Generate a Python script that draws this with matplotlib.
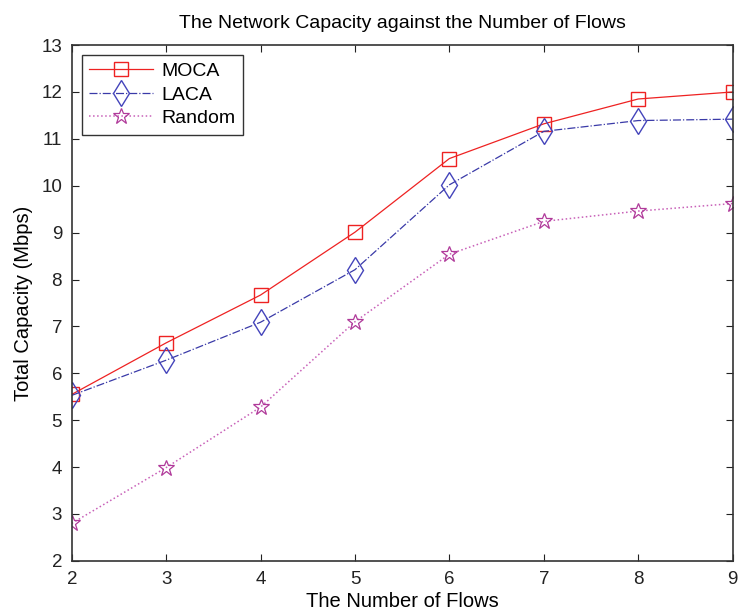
import matplotlib
matplotlib.use('Agg')
import matplotlib.pyplot as plt

plt.rcParams['font.family'] = ['Liberation Sans', 'DejaVu Sans']

# Data
flows = [2, 3, 4, 5, 6, 7, 8, 9]
moca = [5.55, 6.65, 7.67, 9.01, 10.58, 11.32, 11.85, 12.00]
laca = [5.53, 6.28, 7.09, 8.21, 10.02, 11.16, 11.39, 11.42]
random_ = [2.80, 3.99, 5.28, 7.10, 8.54, 9.24, 9.46, 9.62]

fig = plt.figure(figsize=(7.4, 6.09), dpi=100)
ax = fig.add_axes([0.097, 0.079, 0.893, 0.847])

ax.plot(flows, moca, color='#ee2222', linestyle='-', linewidth=0.9,
        marker='s', markersize=9.5, markerfacecolor='none', markeredgecolor='#ee2222',
        markeredgewidth=1.0, label='MOCA')
ax.plot(flows, laca, color='#3a3aa8', linestyle='-.', linewidth=0.9,
        marker='d', markersize=13, markerfacecolor='none', markeredgecolor='#4444bb',
        markeredgewidth=1.0, label='LACA')
ax.plot(flows, random_, color='#c860b8', linestyle=':', linewidth=1.1,
        marker='*', markersize=12, markerfacecolor='none', markeredgecolor='#b03a9a',
        markeredgewidth=0.9, label='Random')

ax.set_xlim(2, 9)
ax.set_ylim(2, 13)
ax.set_xticks(range(2, 10))
ax.set_yticks(range(2, 14))
ax.tick_params(direction='in', top=True, right=True, labelsize=13.5, length=5,
               colors='#222222', pad=7)
for s in ax.spines.values():
    s.set_color('#333333')
    s.set_linewidth(1.2)

ax.set_xlabel('The Number of Flows', fontsize=14.5, labelpad=3)
ax.set_ylabel('Total Capacity (Mbps)', fontsize=14.5, labelpad=6)
ax.set_title('The Network Capacity against the Number of Flows', fontsize=14, pad=12)

leg = ax.legend(loc='upper left', fontsize=14, fancybox=False, edgecolor='#333333',
                handlelength=3.3, handletextpad=0.4, borderpad=0.4, labelspacing=0.3,
                borderaxespad=0.5, framealpha=1)
leg.get_frame().set_linewidth(1.0)

plt.savefig('out.png', dpi=100)
